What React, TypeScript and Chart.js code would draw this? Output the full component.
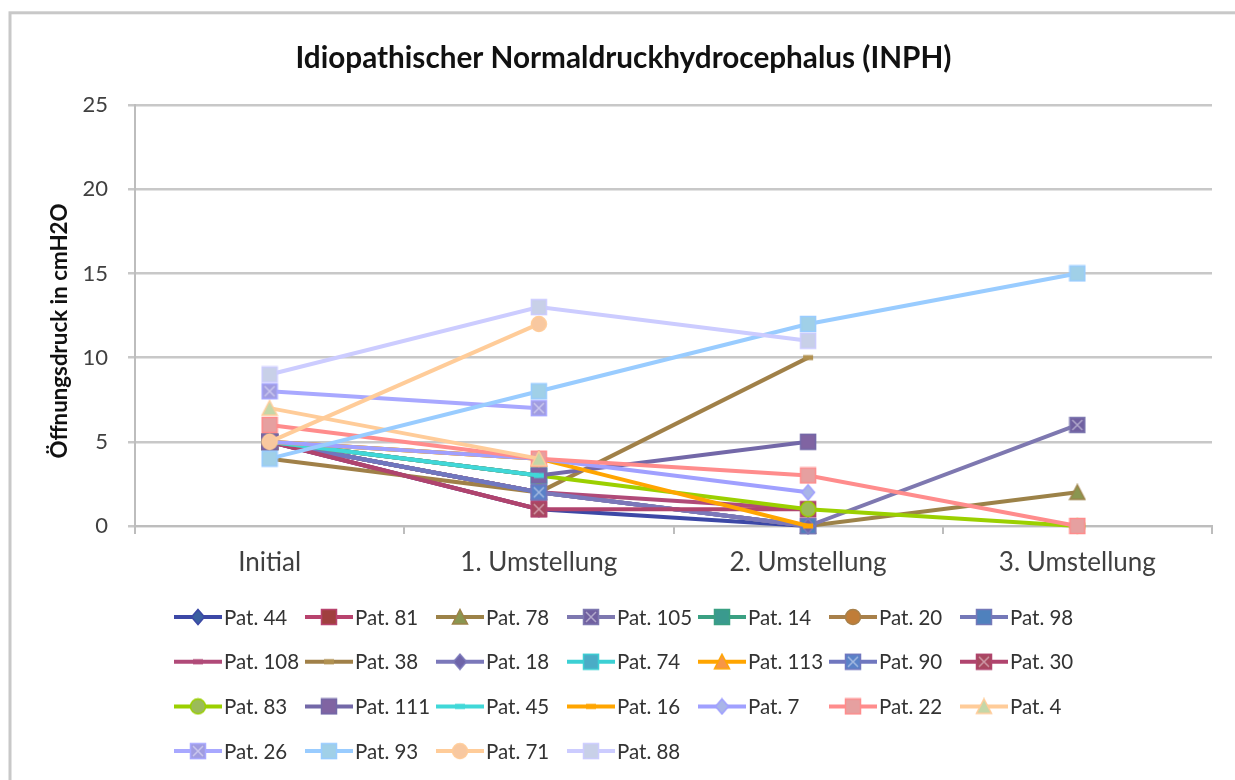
import React, { useEffect, useRef } from 'react';
import { Chart, registerables } from 'chart.js';

Chart.register(...registerables);

const categories = ['Initial', '1. Umstellung', '2. Umstellung', '3. Umstellung'];
const yMin = 0;
const yMax = 25;
const yStep = 5;
const chartTitle = 'Idiopathischer Normaldruckhydrocephalus (INPH)';
const yAxisTitle = 'Öffnungsdruck in cmH2O';

const seriesNames = [
  'Pat. 44', 'Pat. 81', 'Pat. 78', 'Pat. 105', 'Pat. 14', 'Pat. 20', 'Pat. 98',
  'Pat. 108', 'Pat. 38', 'Pat. 18', 'Pat. 74', 'Pat. 113', 'Pat. 90', 'Pat. 30',
  'Pat. 83', 'Pat. 111', 'Pat. 45', 'Pat. 16', 'Pat. 7', 'Pat. 22', 'Pat. 4',
  'Pat. 26', 'Pat. 93', 'Pat. 71', 'Pat. 88',
];

const pat44 = [5, 1, 0, null];
const pat81 = [5, 1, null, null];
const pat78 = [5, 2, 0, 2];
const pat105 = [5, 2, 0, 6];
const pat14 = [5, 3, null, null];
const pat20 = [5, 2, null, null];
const pat98 = [5, 2, 0, null];
const pat108 = [5, 2, 1, null];
const pat38 = [4, 2, 10, null];
const pat18 = [5, 2, 0, null];
const pat74 = [5, 3, null, null];
const pat113 = [5, 4, null, null];
const pat90 = [5, 2, null, null];
const pat30 = [5, 1, 1, null];
const pat83 = [5, 3, 1, 0];
const pat111 = [5, 3, 5, null];
const pat45 = [5, 3, null, null];
const pat16 = [5, 4, 0, null];
const pat7 = [5, 4, 2, null];
const pat22 = [6, 4, 3, 0];
const pat4 = [7, 4, null, null];
const pat26 = [8, 7, null, null];
const pat93 = [4, 8, 12, 15];
const pat71 = [5, 12, null, null];
const pat88 = [9, 13, 11, null];

const seriesValues = [
  pat44, pat81, pat78, pat105, pat14, pat20, pat98,
  pat108, pat38, pat18, pat74, pat113, pat90, pat30,
  pat83, pat111, pat45, pat16, pat7, pat22, pat4,
  pat26, pat93, pat71, pat88,
];

// styles (separate from data)
const lineColors = [
  '#3C48A6', '#B8436E', '#9C8248', '#7E78B0', '#3AA082', '#A8804A', '#7478B8',
  '#B04A78', '#A08048', '#7B78BA', '#3CD0D4', '#FFA500', '#7077BF', '#B0446E',
  '#9BD000', '#7368A8', '#40D8D8', '#FFA500', '#A0A0FF', '#FF8C8C', '#FFCC99',
  '#A8A8FF', '#99CCFF', '#FFCC99', '#CCCCFF',
];
const markerFills = [
  '#3A5FA0', '#A0403F', '#8A9650', '#7060A0', '#3A9A8E', '#C07D38', '#4F81BD',
  '#B04A78', '#B09050', '#6E64A8', '#4AACC6', '#F79646', '#5A82C8', '#A84860',
  '#9BBB59', '#8064A2', '#40D8D8', '#FFA500', '#A9B5E8', '#E6A0A0', '#C4D7A8',
  '#A09CE0', '#A0D0E8', '#F8C8A0', '#C8D0E8',
];
const markerKinds = [
  'diamond', 'square', 'triangle', 'squareX', 'square', 'circle', 'square',
  'dash', 'dash', 'diamond', 'square', 'triangle', 'squareX', 'squareX',
  'circle', 'square', 'dash', 'dash', 'diamond', 'square', 'triangle',
  'squareX', 'square', 'circle', 'square',
];

const FONT = 'Lato, "Open Sans", sans-serif';

function makeMarker(kind: string, fill: string, edge: string): HTMLCanvasElement {
  const size = kind === 'dash' ? 14 : 18;
  const c = document.createElement('canvas');
  c.width = size;
  c.height = size;
  const g = c.getContext('2d')!;
  const s = size;
  const h = s / 2;
  g.fillStyle = fill;
  g.strokeStyle = edge;
  g.lineWidth = 1.5;
  switch (kind) {
    case 'square':
      g.fillRect(1.5, 1.5, s - 3, s - 3);
      g.strokeRect(1.5, 1.5, s - 3, s - 3);
      break;
    case 'squareX':
      g.fillRect(1.5, 1.5, s - 3, s - 3);
      g.strokeRect(1.5, 1.5, s - 3, s - 3);
      g.strokeStyle = 'rgba(255,255,255,0.45)';
      g.lineWidth = 1.5;
      g.beginPath();
      g.moveTo(4, 4); g.lineTo(s - 4, s - 4);
      g.moveTo(s - 4, 4); g.lineTo(4, s - 4);
      g.stroke();
      break;
    case 'diamond':
      g.beginPath();
      g.moveTo(h, 1.5); g.lineTo(s - 2.5, h); g.lineTo(h, s - 1.5); g.lineTo(2.5, h);
      g.closePath();
      g.fill();
      g.stroke();
      break;
    case 'triangle':
      g.beginPath();
      g.moveTo(h, 1.5); g.lineTo(s - 1.5, s - 2); g.lineTo(1.5, s - 2);
      g.closePath();
      g.fill();
      g.stroke();
      break;
    case 'circle':
      g.beginPath();
      g.arc(h, h, h - 1.5, 0, Math.PI * 2);
      g.fill();
      g.stroke();
      break;
    case 'dash':
      g.fillRect(2, h - 2.5, s - 4, 5);
      break;
  }
  return c;
}

const framePlugin = {
  id: 'frame',
  beforeDraw(chart: any) {
    const ctx = chart.ctx;
    ctx.save();
    ctx.fillStyle = '#ffffff';
    ctx.fillRect(0, 0, chart.width, chart.height);
    ctx.strokeStyle = '#c8c8c8';
    ctx.lineWidth = 3;
    ctx.strokeRect(10, 12.8, chart.width + 20, chart.height + 20);
    ctx.restore();
  },
  afterDraw(chart: any) {
    const ctx = chart.ctx;
    ctx.save();
    ctx.translate(60, 331);
    ctx.rotate(-Math.PI / 2);
    ctx.fillStyle = '#111111';
    ctx.font = `bold 22.3px ${FONT}`;
    ctx.textAlign = 'center';
    ctx.textBaseline = 'middle';
    ctx.fillText(yAxisTitle, 0, 0);
    ctx.restore();
  },
};

const legendPlugin = {
  id: 'excelLegend',
  afterDraw(chart: any) {
    const ctx = chart.ctx;
    chart.data.datasets.forEach((ds: any, i: number) => {
      const row = Math.floor(i / 7);
      const col = i % 7;
      const x0 = 174 + col * 131;
      const y = 617 + row * 44.7;
      ctx.save();
      ctx.strokeStyle = ds.borderColor;
      ctx.lineWidth = 4;
      ctx.beginPath();
      ctx.moveTo(x0, y);
      ctx.lineTo(x0 + 48, y);
      ctx.stroke();
      const m = ds.pointStyle as HTMLCanvasElement;
      ctx.drawImage(m, x0 + 24 - m.width / 2, y - m.height / 2);
      ctx.fillStyle = '#333333';
      ctx.font = `20.5px ${FONT}`;
      ctx.textBaseline = 'middle';
      ctx.textAlign = 'left';
      ctx.fillText(ds.label, x0 + 50, y + 1);
      ctx.restore();
    });
  },
};

export default function App() {
  const ref = useRef<HTMLCanvasElement>(null);
  useEffect(() => {
    const canvas = ref.current!;
    const n = seriesNames.length;
    const datasets = seriesNames.map((name, i) => {
      const marker = makeMarker(markerKinds[i], markerFills[i], lineColors[i]);
      return {
        label: name,
        data: seriesValues[i],
        borderColor: lineColors[i],
        backgroundColor: lineColors[i],
        borderWidth: 4,
        pointStyle: marker,
        pointRadius: 8,
        pointHoverRadius: 8,
        tension: 0,
        fill: false,
        spanGaps: false,
        clip: false,
        order: n - i,
      };
    });
    const chart = new Chart(canvas, {
      type: 'line',
      data: { labels: categories, datasets: datasets as any },
      options: {
        responsive: false,
        animation: false,
        devicePixelRatio: 1,
        layout: { padding: { top: 0, left: 35, right: 23, bottom: 194 } },
        plugins: {
          legend: { display: false },
          tooltip: { enabled: false },
          title: {
            display: true,
            text: chartTitle,
            color: '#111111',
            font: { family: FONT, size: 29.7, weight: 'bold', lineHeight: 1.2 },
            padding: { top: 40.2, bottom: 29.2 },
          },
        },
        scales: {
          x: {
            type: 'category',
            offset: true,
            grid: {
              offset: true,
              drawOnChartArea: false,
              drawTicks: true,
              tickLength: 8,
              color: '#bdbdbd',
              lineWidth: 2,
            },
            border: { display: true, color: '#bdbdbd', width: 2 },
            ticks: {
              color: '#404040',
              font: { family: FONT, size: 26 },
              padding: 13,
              maxRotation: 0,
            },
            afterFit: (scale: any) => { scale.height = 60; },
          },
          y: {
            min: yMin,
            max: yMax,
            ticks: {
              stepSize: yStep,
              color: '#404040',
              font: { family: FONT, size: 22 },
              padding: 20,
            },
            grid: {
              color: '#c8c8c8',
              lineWidth: 2.5,
              drawTicks: true,
              tickLength: 7,
            },
            border: { display: true, color: '#bdbdbd', width: 2 },
            title: { display: false },
            afterFit: (scale: any) => { scale.width = 100; },
          },
        },
      },
      plugins: [framePlugin, legendPlugin],
    });
    return () => chart.destroy();
  }, []);
  return (
    <div style={{ position: 'fixed', left: 0, top: 0, width: 1235, height: 780 }}>
      <canvas ref={ref} width={1235} height={780} style={{ width: 1235, height: 780, display: 'block' }} />
    </div>
  );
}
